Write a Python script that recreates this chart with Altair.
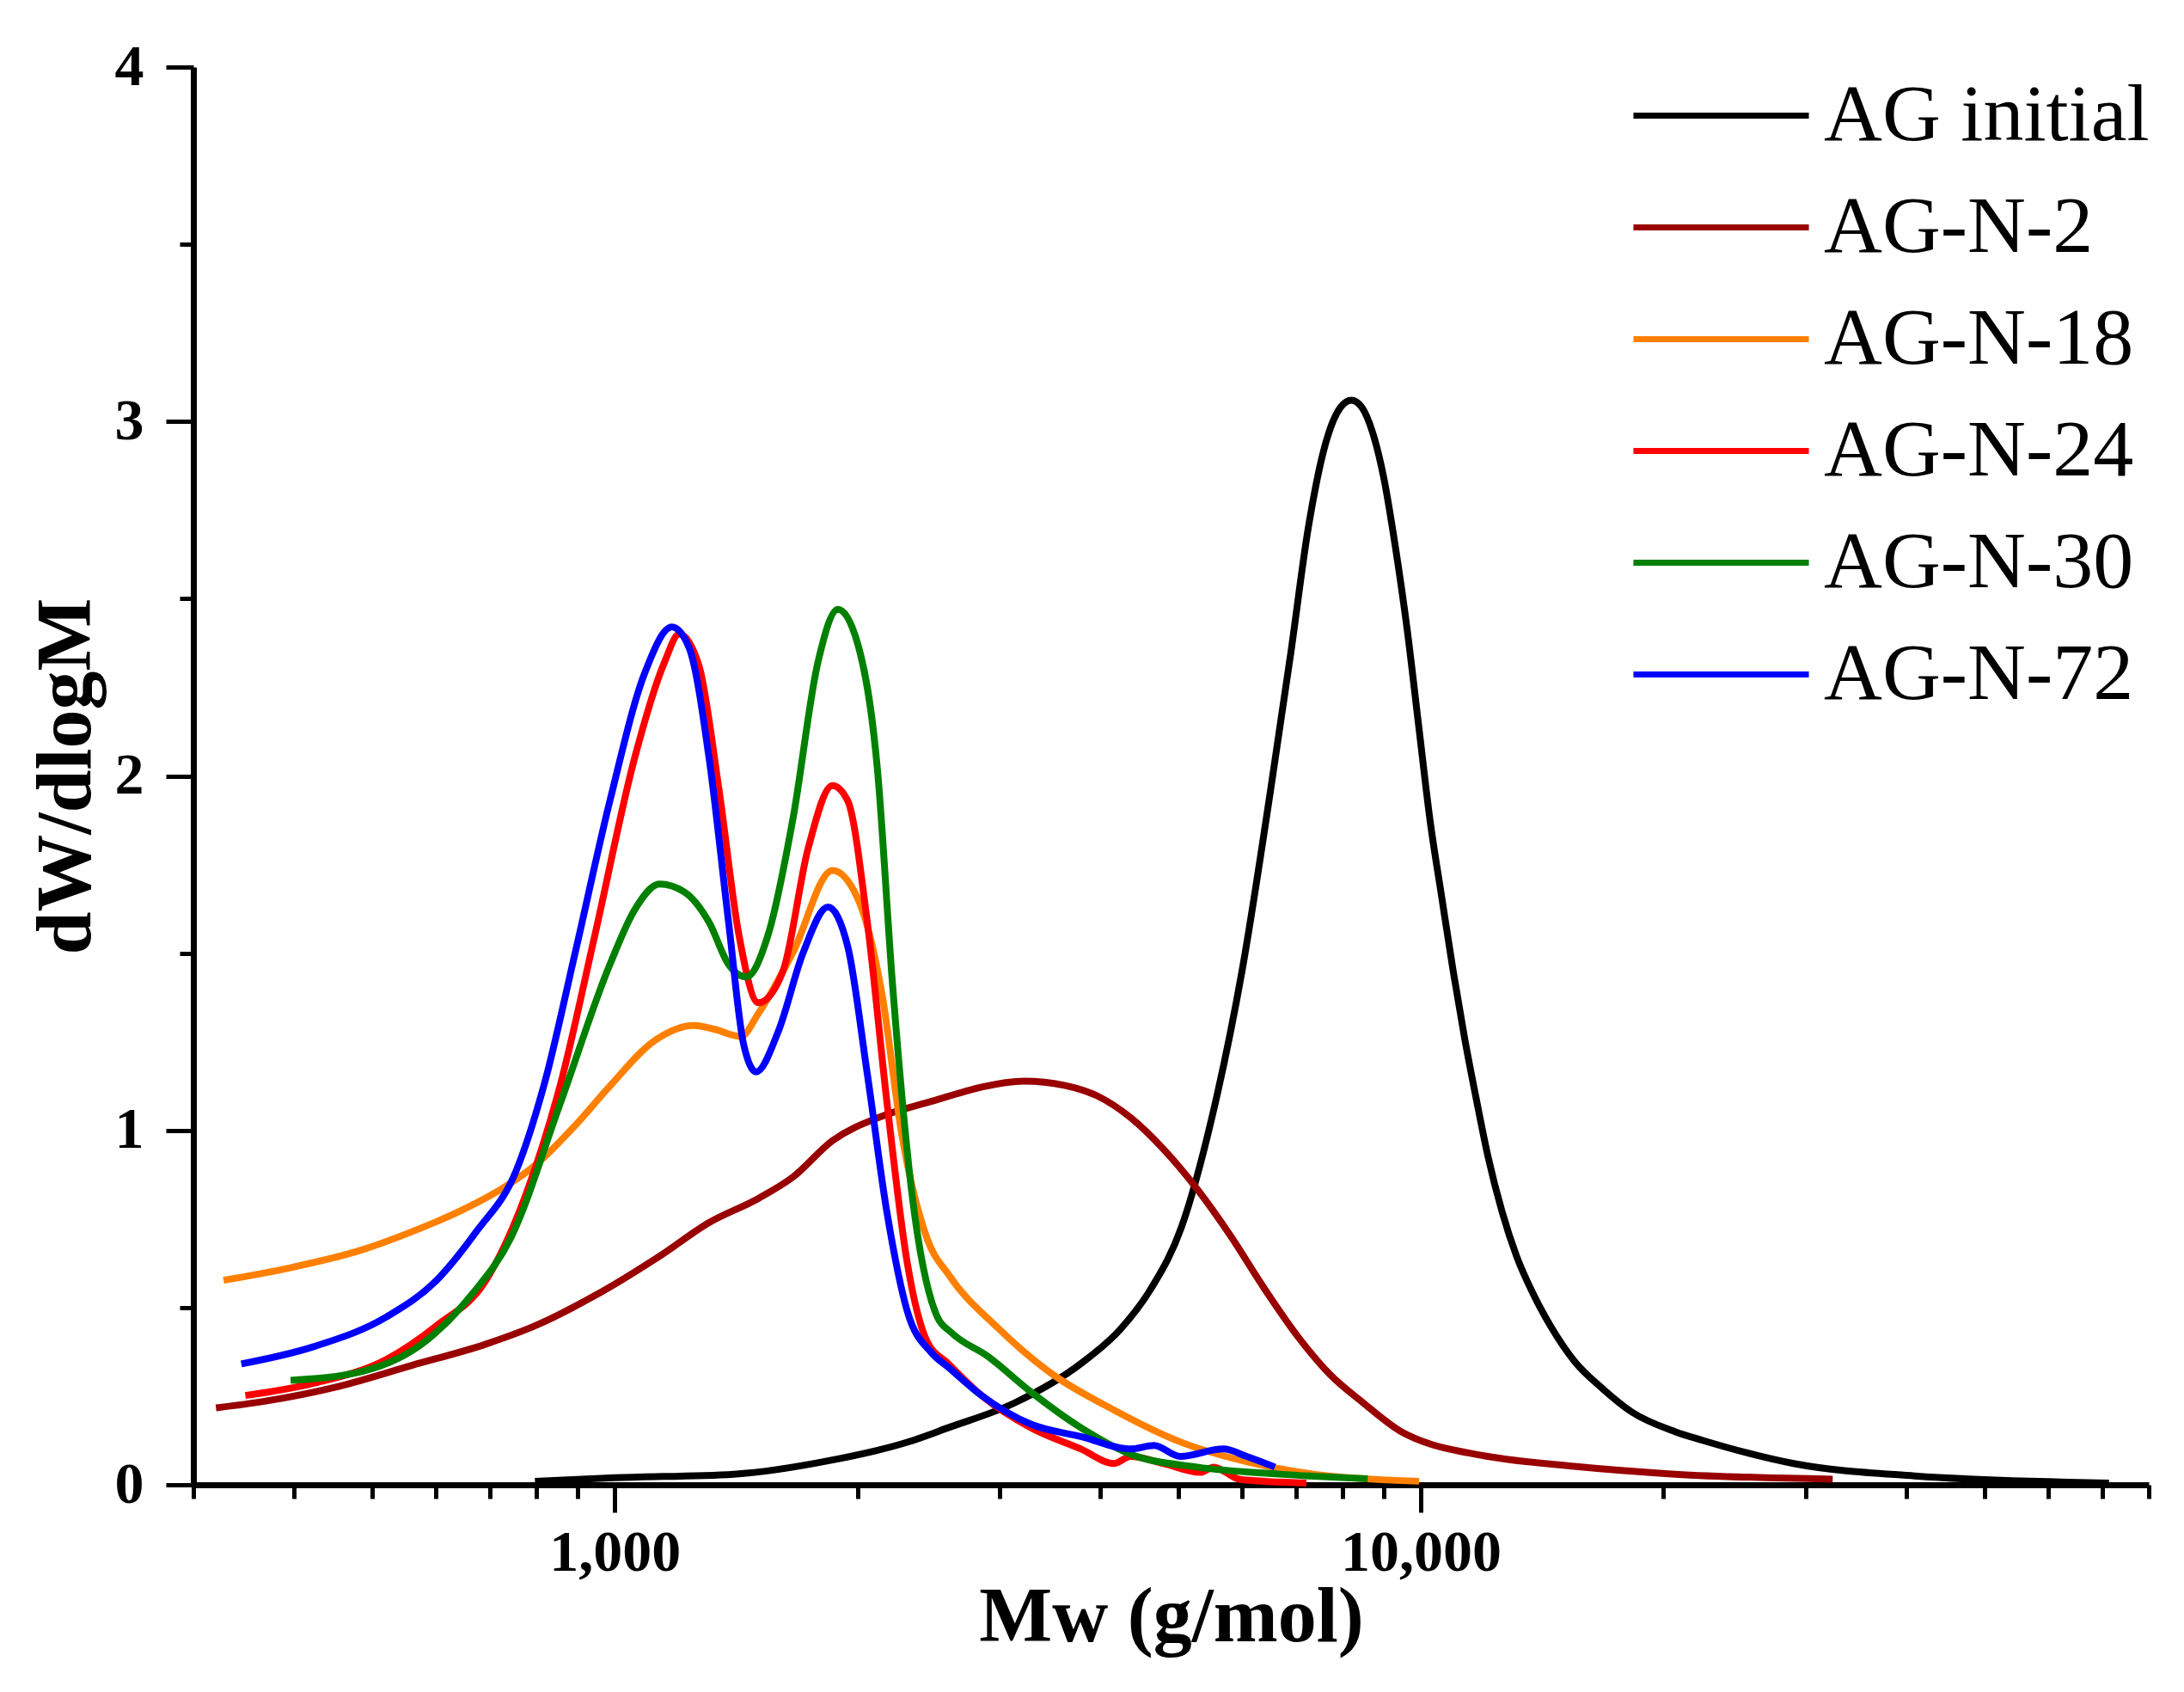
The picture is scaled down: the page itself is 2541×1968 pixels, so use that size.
import altair as alt
import pandas as pd

series = ["AG initial", "AG-N-2", "AG-N-18", "AG-N-24", "AG-N-30", "AG-N-72"]
colors = ["#000000", "#990000", "#FF8000", "#FF0000", "#008000", "#0000FF"]

# AG initial
mw_init = [796, 1000, 1405, 1862, 2305, 2592, 3133, 3787, 4243, 4625, 5045, 5497, 6000,
           6500, 6900, 7250, 7600, 7950, 8200, 8450, 8710, 8997, 9300, 9613, 9934, 10267,
           10611, 10966, 11332, 11712, 12104, 12614, 13145, 13810, 14510, 15490, 16830,
           18280, 20670, 22400, 29000, 41000, 71400]
y_init = [0.01, 0.02, 0.03, 0.07, 0.12, 0.161, 0.231, 0.342, 0.44, 0.553, 0.726, 1.03,
          1.45, 1.95, 2.35, 2.70, 2.93, 3.04, 3.06, 3.04, 2.97, 2.84, 2.645, 2.416, 2.145,
          1.874, 1.66, 1.45, 1.26, 1.09, 0.93, 0.77, 0.645, 0.535, 0.445, 0.35, 0.27,
          0.205, 0.15, 0.125, 0.06, 0.025, 0.005]

# AG-N-2
mw_n2 = [320, 366, 453, 560, 692, 797, 945, 1136, 1309, 1507, 1663, 1862, 2146, 2472,
         2722, 2851, 3222, 3611, 3970, 4364, 4798, 5275, 5800, 6377, 7011, 7708, 8474,
         9455, 10267, 11450, 12104, 15490, 20670, 32430]
y_n2 = [0.217, 0.235, 0.277, 0.337, 0.397, 0.449, 0.534, 0.645, 0.740, 0.808, 0.868,
        0.971, 1.04, 1.082, 1.11, 1.122, 1.139, 1.127, 1.097, 1.036, 0.946, 0.835, 0.704,
        0.558, 0.423, 0.312, 0.232, 0.15, 0.115, 0.09, 0.08, 0.052, 0.03, 0.016]

# AG-N-18
mw_n18 = [327, 393, 486, 560, 645, 732, 797, 893, 986, 1120, 1254, 1330, 1434, 1507,
          1663, 1862, 2000, 2146, 2270, 2438, 2600, 2986, 3442, 4160, 5030, 6080, 7350, 9950]
y_n18 = [0.577, 0.611, 0.663, 0.714, 0.774, 0.842, 0.902, 1.014, 1.125, 1.253, 1.296,
         1.285, 1.265, 1.33, 1.502, 1.733, 1.656, 1.382, 0.988, 0.697, 0.59, 0.443, 0.322,
         0.211, 0.121, 0.065, 0.030, 0.010]

# AG-N-24
mw_n24 = [348, 422, 521, 601, 692, 775, 855, 945, 1058, 1152, 1202, 1272, 1346, 1425,
          1507, 1617, 1736, 1862, 1945, 2057, 2177, 2305, 2438, 2592, 2851, 3283, 3787,
          4160, 4364, 4798, 5325, 5530, 5970, 7210]
y_n24 = [0.252, 0.286, 0.354, 0.449, 0.577, 0.817, 1.125, 1.553, 2.05, 2.32, 2.40, 2.31,
         1.964, 1.553, 1.36, 1.45, 1.793, 1.973, 1.93, 1.587, 1.074, 0.628, 0.406, 0.342,
         0.252, 0.161, 0.101, 0.060, 0.080, 0.060, 0.035, 0.050, 0.015, 0.005]

# AG-N-30
mw_n30 = [396, 486, 583, 663, 743, 855, 986, 1058, 1136, 1219, 1309, 1384, 1455, 1550,
          1663, 1786, 1892, 2000, 2118, 2210, 2338, 2512, 2614, 2904, 3283, 3787, 4364,
          5275, 6680, 8590]
y_n30 = [0.295, 0.32, 0.406, 0.534, 0.697, 1.074, 1.468, 1.622, 1.695, 1.673, 1.587,
         1.468, 1.433, 1.553, 1.878, 2.32, 2.47, 2.375, 2.015, 1.416, 0.817, 0.474, 0.43,
         0.362, 0.262, 0.161, 0.086, 0.05, 0.03, 0.017]

# AG-N-72
mw_n72 = [344, 422, 521, 601, 673, 754, 820, 893, 986, 1089, 1177, 1237, 1309, 1384,
          1444, 1497, 1595, 1713, 1838, 1945, 2057, 2177, 2305, 2472, 2592, 2851, 3283,
          3787, 4364, 4665, 5030, 5690, 6080, 6590]
y_n72 = [0.341, 0.389, 0.474, 0.577, 0.714, 0.885, 1.142, 1.502, 1.93, 2.29, 2.42, 2.36,
         2.05, 1.587, 1.245, 1.165, 1.279, 1.502, 1.63, 1.519, 1.159, 0.765, 0.491, 0.372,
         0.332, 0.252, 0.171, 0.136, 0.101, 0.111, 0.08, 0.101, 0.08, 0.05]

x_ticks = [300, 400, 500, 600, 700, 800, 900, 1000, 2000, 3000, 4000, 5000, 6000, 7000,
           8000, 9000, 10000, 20000, 30000, 40000, 50000, 60000, 70000, 80000]
y_ticks = [0, 0.5, 1, 1.5, 2, 2.5, 3, 3.5, 4]

frames = []
for name, mw, val in zip(series,
                         [mw_init, mw_n2, mw_n18, mw_n24, mw_n30, mw_n72],
                         [y_init, y_n2, y_n18, y_n24, y_n30, y_n72]):
    frames.append(pd.DataFrame({"series": name, "mw": mw, "val": val}))
df = pd.concat(frames, ignore_index=True)

FONT = "Liberation Serif"

chart = alt.Chart(df).mark_line(strokeWidth=8, interpolate="monotone").encode(
    x=alt.X("mw:Q", title="Mw (g/mol)",
            scale=alt.Scale(type="log", domain=[300, 80000], nice=False),
            axis=alt.Axis(values=x_ticks, grid=False, labelLimit=400,
                          labelExpr="datum.value == 1000 ? '1,000' : datum.value == 10000 ? '10,000' : ''",
                          tickSize={"condition": {"test": "datum.value == 1000 || datum.value == 10000", "value": 32}, "value": 16},
                          labelPadding=13, titlePadding=-3)),
    y=alt.Y("val:Q", title="dW/dlogM",
            scale=alt.Scale(domain=[0, 4], nice=False),
            axis=alt.Axis(values=y_ticks, grid=False,
                          labelExpr="datum.value % 1 == 0 ? format(datum.value, 'd') : ''",
                          tickSize={"condition": {"test": "datum.value % 1 == 0", "value": 32}, "value": 16},
                          labelPadding=26, titlePadding=10)),
    color=alt.Color("series:N", sort=series, title=None,
                    scale=alt.Scale(domain=series, range=colors),
                    legend=alt.Legend(orient="none", legendX=1695, legendY=-26,
                                      symbolType="M-1.3,0L1.3,0", symbolSize=24650,
                                      symbolStrokeWidth=7, labelFontSize=94,
                                      labelFont=FONT, labelLimit=600, labelOffset=37,
                                      rowPadding=0)),
).properties(
    width=2275, height=1649,
    autosize=alt.AutoSizeParams(type="none"),
    padding={"left": 217, "top": 70, "right": 30, "bottom": 230},
).configure_view(
    stroke=None
).configure_axis(
    domainColor="black", domainWidth=7, tickColor="black", tickWidth=5,
    labelFont=FONT, labelFontWeight="bold", labelFontSize=68, labelColor="black",
    titleFont=FONT, titleFontWeight="bold", titleFontSize=90, titleColor="black",
)

chart.save("out.html", embed_options={"renderer": "svg", "actions": False})
